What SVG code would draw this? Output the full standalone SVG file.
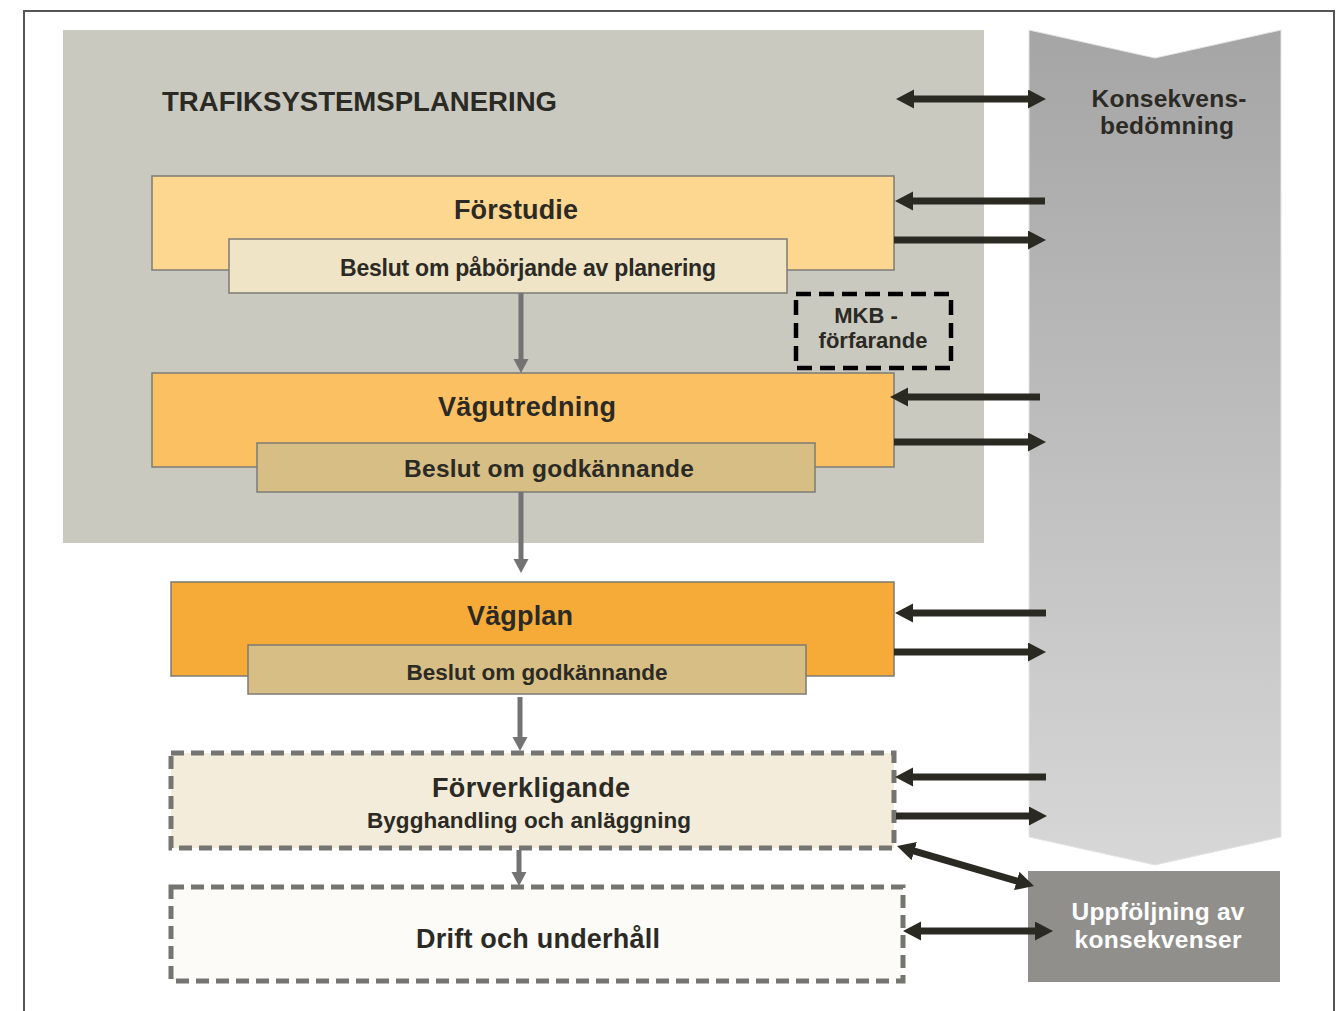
<svg xmlns="http://www.w3.org/2000/svg" width="1339" height="1011" viewBox="0 0 1339 1011">
<style>
text{font-family:"Liberation Sans",Arial,sans-serif;font-weight:bold;fill:#2b2a24}
.mid{text-anchor:middle}
.box{stroke:#7c7b74;stroke-width:1.5}
.arr{stroke:#2b2a22;stroke-width:7;fill:none}
.garr{stroke:#737373;stroke-width:5;fill:none}
.dash{fill:none;stroke:#747471;stroke-width:5;stroke-dasharray:13 7}
</style>
<defs>
<linearGradient id="kg" x1="0" y1="0" x2="0" y2="1">
<stop offset="0" stop-color="#a5a5a5"/>
<stop offset="1" stop-color="#d7d7d7"/>
</linearGradient>
<marker id="ah" markerUnits="userSpaceOnUse" markerWidth="20" markerHeight="20" refX="8" refY="9.5" orient="auto-start-reverse" viewBox="0 0 20 20">
<path d="M0,0 L18,9.5 L0,19 z" fill="#2b2a22"/>
</marker>
<marker id="gh" markerUnits="userSpaceOnUse" markerWidth="16" markerHeight="16" refX="6" refY="7.5" orient="auto" viewBox="0 0 16 16">
<path d="M0,0 L14,7.5 L0,15 z" fill="#737373"/>
</marker>
</defs>
<rect width="1339" height="1011" fill="#ffffff"/>
<path d="M24,1011 V11 H1334 V1011" fill="none" stroke="#555555" stroke-width="2"/>

<g id="trafiksystemsplanering">
<rect x="63" y="30" width="921" height="513" fill="#cac9c0"/>
<text x="162" y="111" font-size="27" textLength="395" lengthAdjust="spacingAndGlyphs">TRAFIKSYSTEMSPLANERING</text>
</g>

<g id="konsekvensbedomning">
<polygon points="1029,30 1155,58 1281,30 1281,837 1155,865 1029,837" fill="url(#kg)" stroke="#e4e4e4" stroke-width="1"/>
<text class="mid" x="1169" y="107" font-size="24.5" textLength="155">Konsekvens-</text>
<text class="mid" x="1167" y="134" font-size="24.5" textLength="134">bedömning</text>
</g>

<g id="uppfoljning">
<rect x="1028" y="871" width="252" height="111" fill="#918f8c"/>
<text class="mid" x="1158" y="920" font-size="24.5" textLength="173" style="fill:#ffffff">Uppföljning av</text>
<text class="mid" x="1158" y="948" font-size="24.5" textLength="167" style="fill:#ffffff">konsekvenser</text>
</g>

<g id="forstudie">
<rect class="box" x="152" y="176" width="742" height="94" fill="#fdd690"/>
<text class="mid" x="516" y="219" font-size="27" textLength="124">Förstudie</text>
</g>
<g id="beslut-paborjande">
<rect class="box" x="229" y="239" width="558" height="54" fill="#efe4c6"/>
<text class="mid" x="528" y="276" font-size="23" textLength="376">Beslut om påbörjande av planering</text>
</g>

<g id="mkb">
<rect x="796" y="294" width="155" height="74" fill="none" stroke="#000000" stroke-width="4.5" stroke-dasharray="15 8"/>
<text class="mid" x="866" y="323" font-size="22">MKB -</text>
<text class="mid" x="873" y="348" font-size="22">förfarande</text>
</g>

<g id="vagutredning">
<rect class="box" x="152" y="373" width="742" height="94" fill="#fbc062"/>
<text class="mid" x="527" y="416" font-size="27" textLength="178">Vägutredning</text>
</g>
<g id="beslut-godkannande-1">
<rect class="box" x="257" y="443" width="558" height="49" fill="#d6be85"/>
<text class="mid" x="549" y="477" font-size="24.5" textLength="290">Beslut om godkännande</text>
</g>

<g id="vagplan">
<rect class="box" x="171" y="582" width="723" height="94" fill="#f6ab39"/>
<text class="mid" x="520" y="625" font-size="27" textLength="106">Vägplan</text>
</g>
<g id="beslut-godkannande-2">
<rect class="box" x="248" y="645" width="558" height="49" fill="#d6be85"/>
<text class="mid" x="537" y="680" font-size="22.5" textLength="261">Beslut om godkännande</text>
</g>

<g id="forverkligande">
<rect x="171" y="753" width="723" height="95" fill="#f4ecda"/>
<rect class="dash" x="171" y="753" width="723" height="95"/>
<text class="mid" x="531" y="797" font-size="27" textLength="198">Förverkligande</text>
<text class="mid" x="529" y="828" font-size="22.5" textLength="324">Bygghandling och anläggning</text>
</g>

<g id="drift">
<rect x="171" y="887" width="732" height="94" fill="#fcfbf8"/>
<rect class="dash" x="171" y="887" width="732" height="94"/>
<text class="mid" x="538" y="948" font-size="27" textLength="244">Drift och underhåll</text>
</g>

<g id="connectors">
<line class="garr" x1="521" y1="293" x2="521" y2="365" marker-end="url(#gh)"/>
<line class="garr" x1="521" y1="492" x2="521" y2="565" marker-end="url(#gh)"/>
<line class="garr" x1="520" y1="697" x2="520" y2="743" marker-end="url(#gh)"/>
<line class="garr" x1="519" y1="850" x2="519" y2="878" marker-end="url(#gh)"/>

<line class="arr" x1="906" y1="99" x2="1036" y2="99" marker-start="url(#ah)" marker-end="url(#ah)"/>
<line class="arr" x1="1045" y1="201" x2="905" y2="201" marker-end="url(#ah)"/>
<line class="arr" x1="894" y1="240" x2="1036" y2="240" marker-end="url(#ah)"/>
<line class="arr" x1="1040" y1="397" x2="900" y2="397" marker-end="url(#ah)"/>
<line class="arr" x1="894" y1="442" x2="1036" y2="442" marker-end="url(#ah)"/>
<line class="arr" x1="1046" y1="613" x2="905" y2="613" marker-end="url(#ah)"/>
<line class="arr" x1="894" y1="652" x2="1036" y2="652" marker-end="url(#ah)"/>
<line class="arr" x1="1046" y1="777" x2="905" y2="777" marker-end="url(#ah)"/>
<line class="arr" x1="896" y1="816" x2="1037" y2="816" marker-end="url(#ah)"/>
<line class="arr" x1="906.6" y1="848.8" x2="1024.4" y2="883.2" marker-start="url(#ah)" marker-end="url(#ah)"/>
<line class="arr" x1="913" y1="931" x2="1043" y2="931" marker-start="url(#ah)" marker-end="url(#ah)"/>
</g>
</svg>
